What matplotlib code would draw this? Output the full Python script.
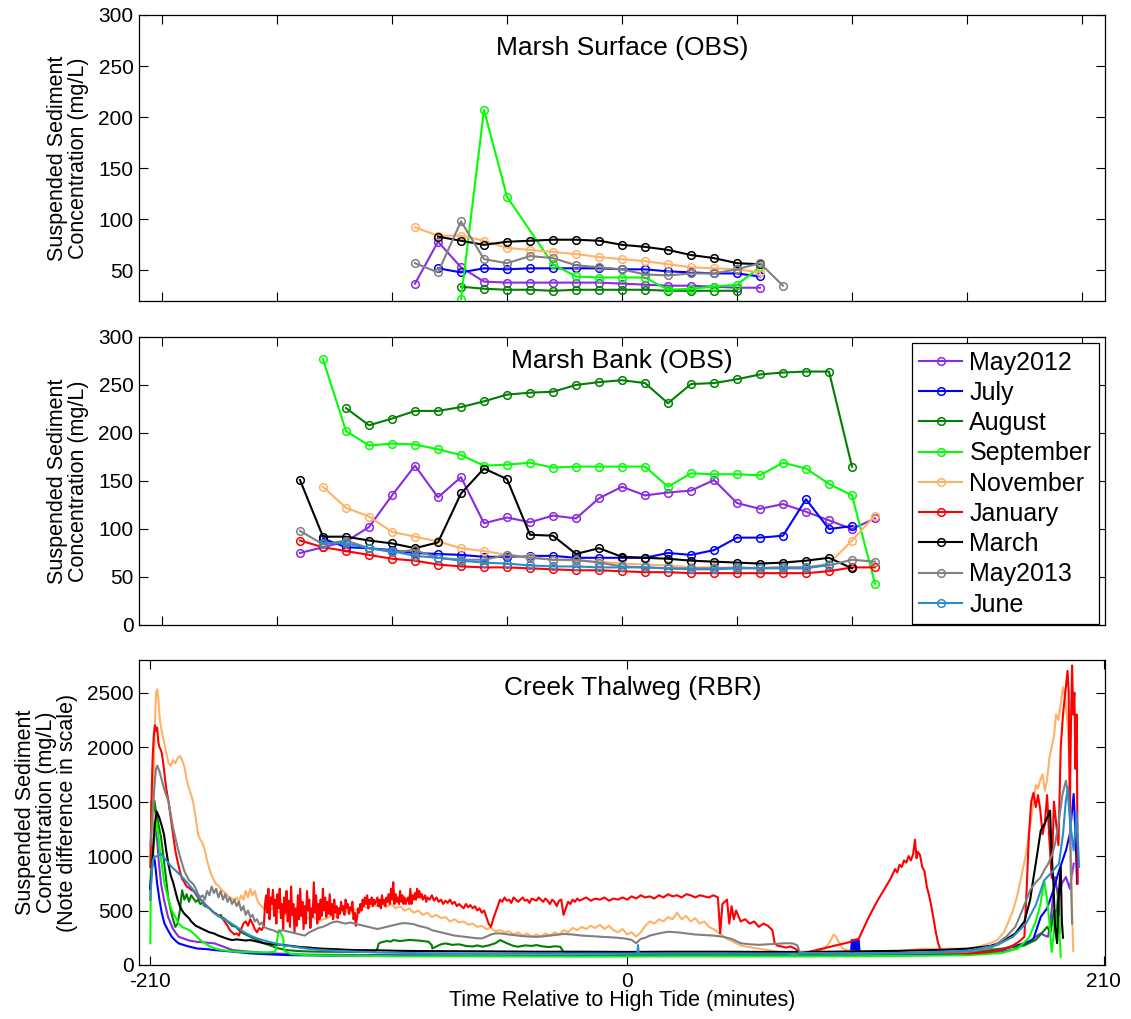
import matplotlib
matplotlib.use("Agg")
import matplotlib.pyplot as plt

plt.rcParams['font.family'] = ['Liberation Sans', 'DejaVu Sans']

# month names and line colours (legend order = plot order)
months = ["May2012", "July", "August", "September", "November",
          "January", "March", "May2013", "June"]
month_colors = ["#8a2be2", "#0000ff", "#008000", "#00ff00", "#ffb266",
                "#ff0000", "#000000", "#808080", "#2a8ccc"]

# ---- Marsh Surface (OBS): first sample time (min) + 10-min samples (mg/L)
surf_start = {"May2012": -90, "July": -80, "August": -70, "September": -70,
              "November": -90, "March": -80, "May2013": -90}
surf_may2012 = [37, 78, 53, 39, 38, 38, 38, 38, 38, 37, 36, 35, 35, 34, 33, 33]
surf_july = [52, 48, 52, 51, 52, 52, 52, 52, 51, 51, 49, 48, 47, 47, 44]
surf_august = [34, 32, 31, 31, 30, 31, 31, 31, 31, 30, 30, 30, 30]
surf_september = [22, 207, 122, None, 56, 44, 43, 43, 43, 31, 32, 34, 36, 53]
surf_november = [92, 84, 84, 79, 72, 70, 68, 66, 63, 61, 59, 56, 53, 52, 51, 48]
surf_march = [83, 79, 75, 78, 79, 80, 80, 79, 75, 73, 70, 65, 62, 57, 56]
surf_may2013 = [57, 48, 98, 61, 57, 64, 62, 55, 53, 51, 46, 45, 47, 47, 51, 57, 35]

# ---- Marsh Bank (OBS)
bank_start = {"May2012": -140, "July": -130, "August": -120, "September": -130,
              "November": -130, "January": -140, "March": -140,
              "May2013": -140, "June": -130}
bank_may2012 = [75, 81, 87, 102, 135, 166, 133, 154, 106, 112, 107, 114, 111,
                132, 144, 135, 138, 140, 151, 127, 121, 126, 118, 109, 100, 111]
bank_july = [90, 81, 80, 78, 75, 74, 73, 71, 71, 72, 72, 70, 70, 70, 70, 75,
             73, 78, 91, 91, 93, 131, 100, 103]
bank_august = [226, 208, 215, 223, 223, 227, 233, 240, 242, 243, 250, 253, 255,
               252, 231, 251, 252, 256, 261, 263, 264, 264, 165]
bank_september = [277, 202, 187, 189, 188, 183, 177, 166, 167, 169, 164, 165,
                  165, 165, 165, 144, 158, 157, 157, 156, 169, 163, 147, 135, 43]
bank_november = [144, 122, 113, 97, 92, 87, 80, 77, 73, 71, 68, 67, 66, 64, 63,
                 62, 60, 60, 59, 60, 60, 60, 64, 88, 114]
bank_january = [88, 81, 77, 73, 69, 67, 63, 61, 60, 60, 59, 58, 57, 57, 56, 55,
                55, 54, 54, 54, 54, 54, 54, 56, 60, 60]
bank_march = [151, 92, 92, 88, 85, 80, 86, 137, 163, 152, 94, 93, 74, 80, 71,
              70, 69, 67, 66, 65, 64, 65, 67, 70, 59]
bank_may2013 = [98, 84, 88, 80, 76, 78, 70, 68, 68, 73, 70, 68, 68, 65, 61, 60,
                59, 59, 59, 60, 59, 60, 60, 62, 68, 66]
bank_june = [85, 85, 80, 77, 72, 70, 67, 65, 64, 62, 61, 61, 60, 60, 60, 59, 58,
             58, 59, 59, 59, 59, 63]

# ---- Creek Thalweg (RBR): (minutes, mg/L)
creek_may2012 = [(-210, 600), (-209.5, 900), (-209, 1100), (-208.5, 1200), (-207.7, 1235),
                 (-207, 1150), (-206.3, 950), (-205.3, 747), (-204, 600), (-203, 510),
                 (-202.2, 442), (-201, 380), (-200, 330), (-199, 300), (-197.5, 259),
                 (-195, 240), (-193, 225), (-189.6, 213), (-185, 205), (-181.7, 198),
                 (-178, 170), (-173.9, 137), (-166, 122), (-155, 105), (-140, 95),
                 (-100, 90), (-60, 88), (-20, 87), (20, 87), (60, 87), (100, 88),
                 (140, 95), (160, 110), (170, 140), (176, 200), (180, 260), (182.2, 290),
                 (184, 270), (185.4, 259), (186.5, 400), (188.5, 808), (190, 600),
                 (191.5, 750), (193.3, 808), (195, 700), (196.7, 930)]
creek_july = [(-210, 700), (-209.5, 900), (-209, 990), (-208.5, 1000), (-208, 950),
              (-207, 747), (-206, 600), (-205, 480), (-203.8, 381), (-202, 310),
              (-200.6, 259), (-199, 225), (-197.5, 198), (-194, 175), (-189.6, 152),
              (-185, 145), (-181.7, 137), (-175, 125), (-166, 107), (-158, 98),
              (-150, 91), (-130, 86), (-100, 84), (-60, 82), (-20, 82), (0, 82),
              (40, 82), (80, 82), (98.5, 85), (99, 229), (99.5, 90), (100, 229),
              (100.5, 90), (101, 229), (101.5, 95), (102, 229), (102.5, 90),
              (110, 90), (130, 95), (150, 110), (165, 140), (175, 200), (178.8, 229),
              (182.2, 442), (185, 520), (188, 700), (190, 850), (193.3, 1052),
              (195, 1200), (196.7, 1570), (197.5, 1200), (198.2, 747)]
creek_august = [(-210, 600), (-209.5, 1000), (-209, 1300), (-208.2, 1509), (-207.5, 1400),
                (-206.5, 1300), (-205.3, 1174), (-204, 950), (-203, 780), (-202.2, 625),
                (-201, 500), (-200, 420), (-199, 350), (-198, 380), (-197, 500),
                (-196, 686), (-195, 600), (-194, 650), (-193, 580), (-192, 640),
                (-191, 610), (-190, 580), (-189, 600), (-188, 560), (-187, 570),
                (-186, 540), (-185, 534), (-184, 520), (-183, 500), (-182, 480),
                (-181, 470), (-180, 450), (-179, 460), (-178.7, 442), (-177, 420),
                (-176, 400), (-175, 380), (-174, 360), (-172.3, 350), (-171, 320),
                (-170, 300), (-168, 280), (-166, 259), (-164, 240), (-162, 220),
                (-160, 200), (-158, 185), (-156, 170), (-154, 155), (-152, 145),
                (-150, 137), (-145, 128), (-140, 124), (-134.7, 122), (-120, 120),
                (-111, 122), (-110, 150), (-109.4, 198), (-108, 210), (-106, 220),
                (-104, 215), (-103, 229), (-100, 220), (-96, 230), (-92, 225),
                (-90, 220), (-88, 215), (-87.4, 213), (-86, 180), (-85.8, 152),
                (-84, 170), (-82, 190), (-80, 198), (-77, 185), (-74, 190), (-71, 175),
                (-68, 170), (-66, 180), (-63.7, 168), (-61, 180), (-58, 200),
                (-55.9, 229), (-53, 200), (-50, 175), (-48, 168), (-45, 180),
                (-42, 175), (-40, 183), (-37, 170), (-34, 165), (-32, 172),
                (-29.5, 168), (-28, 120), (-20, 110), (0, 105), (40, 100), (80, 100),
                (120, 105), (150, 120), (165, 150), (175, 180), (180, 230), (183, 300),
                (185, 350), (186.5, 300), (188, 500), (189, 400), (190, 700), (190.5, 300)]
creek_september = [(-210, 200), (-209.8, 800), (-209.6, 1500), (-209.4, 1000), (-209, 900),
                   (-208.5, 1100), (-207.4, 1330), (-206.5, 1200), (-205.5, 1000),
                   (-204.5, 850), (-203.8, 747), (-202, 600), (-200.6, 503), (-199, 440),
                   (-197.5, 381), (-196, 350), (-194, 330), (-192.7, 320), (-190, 270),
                   (-188, 229), (-186, 200), (-184, 175), (-181.7, 152), (-178, 135),
                   (-172.3, 122), (-166, 118), (-160, 115), (-155, 120), (-154, 250),
                   (-153.4, 320), (-152.5, 290), (-151.5, 250), (-151, 130), (-148, 100),
                   (-140, 90), (-120, 85), (-100, 80), (-60, 80), (-20, 78), (20, 80),
                   (60, 80), (100, 80), (130, 85), (150, 90), (165, 110), (172, 150),
                   (177, 250), (180, 400), (182, 550), (183.7, 777), (185, 600),
                   (186, 400), (187, 120), (188, 300), (188.5, 503), (189.5, 300),
                   (190, 450), (191, 76)]
creek_november = [(-210, 600), (-209.5, 800), (-209, 1200), (-208.5, 1700), (-208, 2200),
                  (-207.5, 2500), (-207, 2530), (-206.5, 2450), (-206, 2300),
                  (-205.5, 2200), (-205, 2150), (-204, 2050), (-203, 1950), (-202, 1850),
                  (-201, 1830), (-200, 1880), (-199, 1850), (-198, 1900), (-197, 1920),
                  (-196, 1880), (-195, 1820), (-194, 1700), (-193, 1620), (-192, 1560),
                  (-191, 1480), (-190, 1350), (-189, 1200), (-188, 1150), (-187, 1120),
                  (-186, 1050), (-185, 960), (-184, 880), (-183, 820), (-182, 780),
                  (-181, 740), (-180, 730), (-179, 700), (-178, 680), (-177, 660),
                  (-176, 640), (-175, 620), (-174, 610), (-173, 600), (-172, 620),
                  (-171, 580), (-170, 640), (-169, 600), (-168, 680), (-167, 620),
                  (-166, 700), (-165, 640), (-164, 680), (-163, 600), (-162, 560),
                  (-161, 540), (-160, 520), (-158, 500), (-156, 520), (-154, 480),
                  (-152, 500), (-150, 460), (-148, 480), (-146, 430), (-144, 470),
                  (-142, 450), (-140, 420), (-138, 440), (-136, 400), (-134, 420),
                  (-132, 430), (-130, 460), (-128, 440), (-126, 480), (-124, 500),
                  (-122, 470), (-120, 510), (-118, 500), (-116, 540), (-114, 520),
                  (-112, 550), (-110, 540), (-108, 560), (-106, 530), (-104, 560),
                  (-102, 520), (-100, 540), (-98, 500), (-96, 520), (-94, 480),
                  (-92, 500), (-90, 460), (-88, 480), (-86, 440), (-84, 460), (-82, 430),
                  (-80, 440), (-78, 400), (-76, 420), (-74, 390), (-72, 400), (-70, 370),
                  (-68, 380), (-66, 350), (-64, 360), (-62, 330), (-60, 340), (-58, 310),
                  (-56, 320), (-54, 300), (-52, 310), (-50, 280), (-48, 300), (-46, 270),
                  (-44, 290), (-42, 260), (-40, 280), (-38, 260), (-36, 290), (-34, 270),
                  (-32, 300), (-30, 280), (-28, 320), (-26, 300), (-24, 340), (-22, 320),
                  (-20, 350), (-18, 330), (-16, 360), (-14, 340), (-12, 370), (-10, 330),
                  (-8, 360), (-6, 320), (-4, 300), (-2, 330), (0, 280), (2, 300), (4, 260),
                  (6, 300), (8, 360), (10, 400), (12, 380), (14, 420), (16, 400),
                  (18, 440), (20, 420), (22, 480), (24, 420), (26, 450), (28, 400),
                  (30, 430), (32, 380), (34, 400), (36, 350), (38, 330), (40, 300),
                  (42, 270), (44, 240), (46, 220), (48, 200), (50, 180), (52, 170),
                  (55, 160), (58, 150), (61, 140), (64, 130), (67, 120), (70, 110),
                  (73, 100), (76, 110), (80, 120), (84, 130), (87, 150), (89, 200),
                  (91, 280), (92, 260), (93, 220), (95, 150), (98, 130), (102, 120),
                  (110, 110), (120, 130), (130, 150), (140, 150), (150, 150), (155, 170),
                  (160, 200), (163, 230), (166, 300), (168, 400), (170, 500), (172, 650),
                  (174, 850), (176, 1050), (178, 1350), (179, 1500), (180, 1650),
                  (181, 1620), (182, 1700), (183, 1750), (184, 1600), (185, 1700),
                  (186, 1900), (187, 2000), (188, 2100), (189, 2300), (190, 2250),
                  (191, 2400), (192, 2550), (193, 2450), (194, 2200), (195, 1800),
                  (195.5, 1000), (196, 500), (196.5, 130)]
creek_january = [(-210, 900), (-209.5, 1500), (-209, 1900), (-208.5, 2100), (-208, 2200),
                 (-207.5, 2150), (-207, 2180), (-206.5, 2050), (-206, 2000), (-205.5, 1980),
                 (-205, 1950), (-204.5, 1880), (-204, 1800), (-203.5, 1700), (-203, 1620),
                 (-202, 1500), (-201, 1350), (-200, 1200), (-199, 1050), (-198, 950),
                 (-197, 860), (-196, 790), (-195, 760), (-194, 720), (-193, 710),
                 (-192, 690), (-191, 680), (-190, 650), (-189, 620), (-188, 600),
                 (-187, 590), (-186, 560), (-185, 540), (-184, 520), (-183, 500),
                 (-182, 480), (-181, 470), (-180, 450), (-179, 440), (-178, 420),
                 (-177, 390), (-176, 360), (-175, 320), (-174, 300), (-173, 280),
                 (-172, 290), (-171, 270), (-170, 330), (-169, 380), (-168, 400),
                 (-167, 360), (-166, 420), (-165, 380), (-164, 330), (-163, 300),
                 (-162, 340), (-161, 320), (-160, 360),
                 (-159.5, 560), (-159, 640), (-158.5, 480), (-158, 700), (-157.5, 420),
                 (-157, 620), (-156.5, 560), (-156, 690), (-155.5, 450), (-155, 600),
                 (-154.5, 380), (-154, 650), (-153.5, 520), (-153, 700), (-152.5, 430),
                 (-152, 560), (-151.5, 330), (-151, 620), (-150.5, 480), (-150, 680),
                 (-149.5, 400), (-149, 590), (-148.5, 350), (-148, 720), (-147.5, 460),
                 (-147, 560), (-146.5, 300), (-146, 520), (-145.5, 360), (-145, 640),
                 (-144.5, 420), (-144, 700), (-143.5, 450), (-143, 580), (-142.5, 330),
                 (-142, 540), (-141.5, 380), (-141, 680), (-140.5, 500), (-140, 600),
                 (-139.5, 340), (-139, 520), (-138.5, 440), (-138, 760), (-137.5, 480),
                 (-137, 640), (-136.5, 380), (-136, 560), (-135.5, 420), (-135, 600),
                 (-134.5, 450), (-134, 700), (-133.5, 500), (-133, 620), (-132.5, 440),
                 (-132, 580), (-131.5, 470), (-131, 650), (-130.5, 460), (-130, 560),
                 (-129.5, 420), (-129, 600), (-128.5, 480), (-128, 540), (-127.5, 430),
                 (-127, 520), (-126.5, 470), (-126, 580), (-125.5, 500), (-125, 540),
                 (-124.5, 460), (-124, 600), (-123.5, 520), (-123, 560), (-122.5, 470),
                 (-122, 530), (-121.5, 500), (-121, 580), (-120.5, 420), (-120, 480),
                 (-119.5, 360), (-119, 430), (-118.5, 520), (-118, 480), (-117.5, 560),
                 (-117, 500), (-116.5, 600), (-116, 540), (-115.5, 620), (-115, 560),
                 (-114.5, 640), (-114, 520), (-113.5, 600), (-113, 560), (-112.5, 620),
                 (-112, 540), (-111.5, 600), (-111, 560),
                 (-110, 620), (-109.5, 540), (-109, 600), (-108.5, 520), (-108, 640),
                 (-107.5, 560), (-107, 600), (-106.5, 540), (-106, 620), (-105.5, 580),
                 (-105, 650), (-104.5, 560), (-104, 700), (-103.5, 600), (-103, 760),
                 (-102.5, 560), (-102, 650), (-101.5, 580), (-101, 620), (-100.5, 560),
                 (-100, 680), (-99.5, 580), (-99, 640), (-98.5, 560), (-98, 620),
                 (-97.5, 560), (-97, 600), (-96.5, 620), (-96, 560), (-95.5, 700),
                 (-95, 560), (-94.5, 640), (-94, 600), (-93.5, 660), (-93, 600),
                 (-92.5, 700), (-92, 620), (-91.5, 680), (-91, 620), (-90.5, 650),
                 (-90, 600), (-89, 640), (-88.5, 580), (-88, 620), (-87, 600), (-86, 640),
                 (-85, 590), (-84, 620), (-83, 580), (-82, 600), (-81, 560), (-80, 590),
                 (-79, 570), (-78, 600), (-77, 560), (-76, 580), (-75, 540), (-74, 560),
                 (-73, 540), (-72, 520), (-71, 560), (-70, 530), (-69, 550), (-68, 520),
                 (-67, 540), (-66, 500), (-65, 520), (-64, 480), (-63, 500), (-62, 440),
                 (-61, 380), (-60, 350), (-59, 420), (-58, 480), (-57, 540), (-56, 600),
                 (-55, 580), (-54, 620), (-53, 590), (-52, 600), (-51, 570), (-50, 620),
                 (-49, 600), (-48, 580), (-47, 600), (-46, 620), (-45, 590), (-44, 600),
                 (-43, 570), (-42, 610), (-41, 600), (-40, 590), (-39, 620), (-38, 600),
                 (-37, 580), (-36, 610), (-35, 590), (-34, 560), (-33, 600), (-32, 580),
                 (-31, 540), (-30, 590), (-29, 600), (-28, 460), (-27, 520), (-26, 580),
                 (-25, 560), (-24, 600), (-23, 580), (-22, 610), (-21, 590), (-20, 600),
                 (-18, 620), (-16, 590), (-14, 610), (-12, 600), (-10, 620), (-8, 590),
                 (-6, 610), (-4, 600), (-2, 620), (0, 600), (2, 630), (4, 610), (6, 640),
                 (8, 620), (10, 630), (12, 610), (14, 640), (16, 620), (18, 650),
                 (20, 630), (22, 640), (24, 620), (26, 650), (28, 640), (30, 620),
                 (32, 640), (34, 630), (36, 620), (38, 640), (40, 620), (41, 290),
                 (42, 560), (44, 600), (45, 380), (46, 540), (47, 420), (48, 500),
                 (50, 400), (52, 420), (54, 380), (56, 400), (58, 350), (60, 380),
                 (62, 360), (63, 340), (64, 320), (65, 200), (66, 180), (68, 170),
                 (70, 160), (72, 170), (74, 150), (76, 120), (78, 110), (80, 120),
                 (82, 130), (84, 140), (86, 150), (88, 160), (90, 170), (92, 180),
                 (94, 190), (96, 200), (98, 210), (100, 230), (102, 240), (104, 330),
                 (106, 420), (108, 500), (110, 580), (112, 650), (114, 720), (116, 790),
                 (118, 880), (119, 850), (120, 920), (121, 900), (122, 960), (123, 940),
                 (124, 1000), (125, 960), (126, 1020), (126.8, 1150), (127.5, 980),
                 (128, 1040), (129, 1010), (130, 900), (131, 860), (132, 720), (133, 640),
                 (134, 540), (135, 420), (136, 300), (137, 200), (138, 140), (140, 110),
                 (145, 110), (150, 105), (155, 110), (160, 120), (165, 140), (170, 180),
                 (173, 220), (175, 260), (176, 700), (177, 1200), (178, 1500),
                 (179, 1580), (180, 1450), (181, 1560), (182, 1420), (183, 1200),
                 (184, 1300), (185, 1560), (186, 1150), (187, 800), (188, 1500),
                 (189, 1300), (190, 1100), (191, 2000), (192, 2300), (193, 2500),
                 (194, 2700), (194.5, 2500), (195, 1400), (195.5, 2200), (196, 2750),
                 (196.5, 2300), (197, 2500), (197.5, 1800), (198, 2300), (198.5, 750)]
creek_march = [(-210, 700), (-209, 1000), (-208, 1300), (-207.2, 1410), (-206, 1350),
               (-205, 1280), (-204, 1200), (-203, 1050), (-202, 920), (-201, 820),
               (-200, 760), (-199, 680), (-198, 600), (-197, 540), (-196, 500),
               (-195, 470), (-194, 450), (-193, 430), (-192, 400), (-191, 380),
               (-190, 360), (-188, 340), (-186, 320), (-184, 300), (-182, 290),
               (-180, 270), (-178, 255), (-176, 240), (-174, 229), (-172, 235),
               (-170, 230), (-168, 225), (-166, 229), (-164, 220), (-162, 210),
               (-160, 200), (-156, 190), (-152, 185), (-148, 175), (-144, 165),
               (-140, 160), (-136, 152), (-132, 148), (-128, 145), (-124, 140),
               (-120, 137), (-110, 135), (-100, 130), (-90, 128), (-80, 127),
               (-60, 125), (-40, 122), (-20, 122), (0, 120), (20, 122), (40, 122),
               (60, 120), (80, 120), (100, 125), (120, 130), (140, 140), (150, 150),
               (160, 175), (165, 210), (171, 290), (175, 400), (177.5, 595), (179, 800),
               (180.5, 1000), (182.2, 1235), (184, 1300), (186.3, 1418), (187, 1000),
               (187.8, 747), (188.5, 350), (189.4, 200), (190, 600), (191, 900),
               (191.5, 400), (192, 250)]
creek_may2013 = [(-210, 1100), (-209, 1400), (-208, 1700), (-207.5, 1800), (-207, 1830),
                 (-206, 1780), (-205, 1700), (-204, 1620), (-203, 1560), (-202, 1500),
                 (-201, 1380), (-200, 1260), (-199, 1170), (-198, 1080), (-197, 1000),
                 (-196, 930), (-195, 860), (-194, 820), (-193, 780), (-192, 760),
                 (-191, 740), (-190, 700), (-189, 650), (-188, 620), (-187, 640),
                 (-186, 600), (-185, 680), (-184, 640), (-183, 720), (-182, 660),
                 (-181, 700), (-180, 620), (-179, 680), (-178, 600), (-177, 650),
                 (-176, 580), (-175, 620), (-174, 560), (-173, 600), (-172, 540),
                 (-171, 580), (-170, 500), (-169, 540), (-168, 460), (-167, 500),
                 (-166, 440), (-165, 460), (-164, 400), (-163, 420), (-162, 370),
                 (-161, 390), (-160, 350), (-158, 330), (-156, 320), (-154, 300),
                 (-152, 320), (-150, 310), (-148, 300), (-146, 290), (-144, 280),
                 (-142, 270), (-140, 300), (-138, 320), (-136, 340), (-134, 350),
                 (-132, 370), (-130, 390), (-128, 400), (-126, 390), (-124, 380),
                 (-122, 390), (-120, 380), (-118, 370), (-116, 360), (-114, 350),
                 (-112, 340), (-110, 330), (-108, 340), (-106, 350), (-104, 360),
                 (-102, 370), (-100, 380), (-98, 385), (-96, 380), (-94, 375),
                 (-92, 360), (-90, 350), (-88, 340), (-86, 320), (-84, 310), (-82, 300),
                 (-80, 290), (-78, 280), (-76, 270), (-74, 265), (-72, 260), (-70, 255),
                 (-68, 250), (-66, 245), (-64, 244), (-62, 260), (-60, 280), (-58, 290),
                 (-56, 290), (-54, 285), (-52, 280), (-50, 275), (-48, 270), (-46, 265),
                 (-44, 262), (-42, 260), (-40, 258), (-36, 265), (-32, 275), (-28, 285),
                 (-24, 280), (-20, 270), (-16, 265), (-12, 260), (-8, 255), (-4, 250),
                 (0, 240), (2, 230), (4, 200), (6, 240), (8, 250), (10, 270), (14, 290),
                 (18, 305), (22, 300), (26, 290), (30, 280), (34, 275), (38, 270),
                 (42, 260), (46, 240), (50, 200), (54, 190), (58, 185), (62, 190),
                 (66, 195), (70, 200), (73, 198), (75, 180), (76, 120), (80, 110),
                 (100, 100), (130, 110), (150, 120), (160, 150), (163, 198), (167, 260),
                 (171, 350), (174, 500), (177.5, 686), (180, 760), (182, 800), (184, 880),
                 (185.5, 930), (187, 1000), (188.5, 1113), (190, 1300), (191.8, 1570),
                 (193.3, 1692), (194, 1600), (195, 1357), (195.5, 800), (196, 381)]
creek_june = [(-210, 600), (-209.5, 800), (-209, 950), (-208.4, 990), (-207, 1000),
              (-205.3, 1021), (-203, 960), (-200.6, 900), (-198, 850), (-196, 808),
              (-193.5, 750), (-191, 686), (-188.5, 620), (-186.4, 564), (-184, 520),
              (-181.7, 473), (-178.5, 430), (-175.4, 396), (-172, 350), (-169, 305),
              (-166, 270), (-162.9, 244), (-159, 220), (-155, 198), (-151, 180),
              (-147, 168), (-141, 150), (-134.6, 137), (-126, 128), (-118.8, 122),
              (-110, 115), (-90, 108), (-60, 105), (-30, 105), (0, 105), (4.5, 106),
              (4.8, 183), (5.1, 106), (40, 105), (80, 105), (120, 110), (150, 130),
              (163, 183), (170, 260), (175.7, 381), (180, 550), (183.7, 777), (187, 850),
              (190.2, 930), (192, 1200), (193.2, 1500), (194.2, 1631), (195.2, 1300),
              (196.7, 1052), (198, 1400), (199.1, 900)]

surf_series = {"May2012": surf_may2012, "July": surf_july, "August": surf_august,
               "September": surf_september, "November": surf_november,
               "March": surf_march, "May2013": surf_may2013}
bank_series = {"May2012": bank_may2012, "July": bank_july, "August": bank_august,
               "September": bank_september, "November": bank_november,
               "January": bank_january, "March": bank_march,
               "May2013": bank_may2013, "June": bank_june}
creek_series = {"May2012": creek_may2012, "July": creek_july, "August": creek_august,
                "September": creek_september, "November": creek_november,
                "January": creek_january, "March": creek_march,
                "May2013": creek_may2013, "June": creek_june}

W, H = 1131, 1019
fig = plt.figure(figsize=(W / 100, H / 100), dpi=100)


def px_axes(left, top, right, bottom):
    return fig.add_axes([left / W, 1 - bottom / H, (right - left) / W, (bottom - top) / H])


ax1 = px_axes(139, 15, 1105, 301)
ax2 = px_axes(139, 337, 1105, 625)
ax3 = px_axes(139, 660, 1105, 965)

tick_fs = 15
label_fs = 15.5
title_fs = 19


def style(ax):
    ax.tick_params(direction="in", length=6.5, width=0.8, top=True, right=True,
                   labelsize=tick_fs, pad=4, colors="black")
    for s in ax.spines.values():
        s.set_linewidth(0.9)
        s.set_color("black")


def marsh_line(ax, start, vals, color, label=None):
    t = [start + 10 * i for i in range(len(vals))]
    pts = [(x, v) for x, v in zip(t, vals) if v is not None]
    xs, ys = zip(*pts)
    ax.plot(xs, ys, "-o", color=color, lw=1.5, ms=5.5, mfc="none", mew=1.1,
            label=label)


for name, col in zip(months, month_colors):
    if name in surf_series:
        marsh_line(ax1, surf_start[name], surf_series[name], col)
    marsh_line(ax2, bank_start[name], bank_series[name], col, label=name)
    t, c = zip(*creek_series[name])
    ax3.plot(t, c, color=col, lw=1.5)

for ax in (ax1, ax2):
    ax.set_xlim(-210, 210)
    ax.set_xticks(range(-200, 201, 50))
    ax.set_xticklabels([])
    style(ax)
ax1.set_ylim(20, 300)
ax1.set_yticks(range(50, 301, 50))
ax2.set_ylim(0, 300)
ax2.set_yticks(range(0, 301, 50))

ax3.set_xlim(-215, 210.5)
ax3.set_xticks([-210, 0, 210])
ax3.set_xticklabels(["-210", "0", "210"])
ax3.set_ylim(0, 2800)
ax3.set_yticks(range(0, 2501, 500))
style(ax3)
ax3.tick_params(axis="x", pad=5)

ax1.text(0.5, 0.885, "Marsh Surface (OBS)", transform=ax1.transAxes,
         ha="center", va="center", fontsize=title_fs)
ax2.text(0.5, 0.918, "Marsh Bank (OBS)", transform=ax2.transAxes,
         ha="center", va="center", fontsize=title_fs)
ax3.text(0.511, 0.908, "Creek Thalweg (RBR)", transform=ax3.transAxes,
         ha="center", va="center", fontsize=title_fs)

ylab = "Suspended Sediment\nConcentration (mg/L)"
for ax in (ax1, ax2):
    ax.text(-0.073, 0.5, ylab, transform=ax.transAxes, rotation=90,
            ha="center", va="center", multialignment="center",
            fontsize=label_fs, linespacing=1.0)
ax3.text(-0.096, 0.5, ylab + "\n(Note difference in scale)", transform=ax3.transAxes,
         rotation=90, ha="center", va="center", multialignment="center",
         fontsize=label_fs, linespacing=1.0)
ax3.set_xlabel("Time Relative to High Tide (minutes)", fontsize=label_fs, labelpad=-1)

leg = ax2.legend(loc="upper right", bbox_to_anchor=(0.9938, 0.979),
                 borderaxespad=0, fontsize=18, frameon=True, fancybox=False,
                 edgecolor="black", framealpha=1, numpoints=1,
                 handlelength=1.7, handletextpad=0.3, labelspacing=0.25,
                 borderpad=0.3)
leg.get_frame().set_linewidth(0.9)

fig.savefig("out.png", dpi=100)
